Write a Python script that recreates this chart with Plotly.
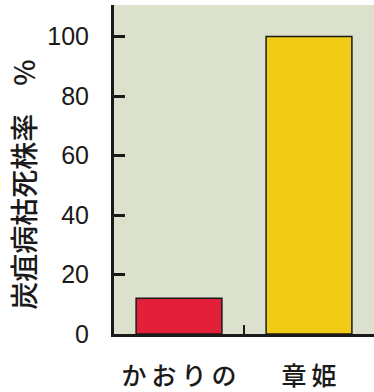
import plotly.graph_objects as go

# Anthracnose wilt death rate by strawberry cultivar
cultivars = ["か\u2009お\u2009り\u2009の", "章\u2009姫"]
death_rate = [12, 100]
bar_colors = ["#e2203a", "#f2cc14"]
y_ticks = [0, 20, 40, 60, 80, 100]

fig = go.Figure(
    go.Bar(
        x=cultivars,
        y=death_rate,
        width=0.66,
        marker=dict(color=bar_colors, line=dict(color="#1a1a1a", width=1.5)),
    )
)

fig.update_layout(
    width=374,
    height=392,
    margin=dict(l=114, r=0, t=5, b=54),
    paper_bgcolor="white",
    plot_bgcolor="#dbe1cd",
    showlegend=False,
    font=dict(family="Liberation Sans, Arial, sans-serif", color="#1a1a1a"),
)

fig.update_xaxes(
    range=[-0.5, 1.5],
    showline=True,
    linecolor="#1a1a1a",
    linewidth=3,
    ticks="inside",
    tickson="boundaries",
    ticklen=9,
    tickwidth=2,
    tickcolor="#1a1a1a",
    ticklabelstandoff=18,
    tickfont=dict(family="Noto Sans CJK JP", size=25, weight=500, color="#1a1a1a"),
    showgrid=False,
    zeroline=False,
)

fig.update_yaxes(
    range=[0, 110.6],
    tickvals=y_ticks,
    ticktext=[str(v) for v in y_ticks],
    showline=True,
    linecolor="#1a1a1a",
    linewidth=3,
    ticks="inside",
    ticklen=11,
    tickwidth=2.5,
    tickcolor="#1a1a1a",
    ticklabelstandoff=17,
    tickfont=dict(family="Liberation Sans, Arial, sans-serif", size=25, color="#1a1a1a"),
    showgrid=False,
    zeroline=False,
)

fig.add_annotation(
    text="炭疽病枯死株率\u3000%",
    xref="paper",
    yref="paper",
    x=-(114 - 23) / 260,
    y=(338 - 187) / 333,
    xanchor="center",
    yanchor="middle",
    textangle=-90,
    showarrow=False,
    font=dict(family="Noto Sans CJK JP", size=28, weight=500, color="#1a1a1a"),
)

fig.write_html("out.html")
